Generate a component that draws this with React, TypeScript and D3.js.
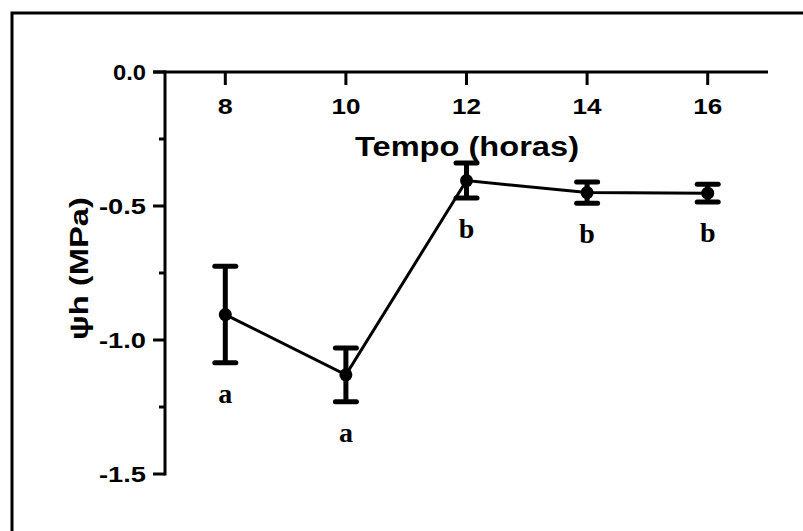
import React from "react";
import * as d3 from "d3";

const hours = [8, 10, 12, 14, 16];
const means = [-0.905, -1.13, -0.405, -0.45, -0.452];
const errors = [0.18, 0.1, 0.065, 0.04, 0.033];
const groupLetters = ["a", "a", "b", "b", "b"];
const xTicks = [8, 10, 12, 14, 16];
const yTicks = [0, -0.5, -1.0, -1.5];
const yMinorTicks = [-0.25, -0.75, -1.25];
const xTitle = "Tempo (horas)";
const yTitle = "ψh (MPa)";

export default function App() {
  const W = 803;
  const H = 531;
  const x = d3.scaleLinear().domain([7, 17]).range([165, 768]);
  const y = d3.scaleLinear().domain([0, -1.5]).range([72, 474]);
  const pts = hours.map((h, i) => [x(h), y(means[i])] as [number, number]);
  const line = d3.line()(pts) || "";
  const sans = "Arial, 'Liberation Sans', Helvetica, sans-serif";
  const serif = "'Times New Roman', 'Liberation Serif', serif";
  const capW = 21;

  return (
    <svg
      width={W}
      height={H}
      style={{ position: "absolute", left: 0, top: 0, background: "#fff" }}
    >
      <rect x={0} y={0} width={W} height={H} fill="#fff" />
      {/* outer frame */}
      <rect x={12} y={13} width={W + 20} height={H + 20} fill="none" stroke="#000" strokeWidth={3} />

      {/* x axis (top) */}
      <line x1={153} x2={x(17)} y1={y(0)} y2={y(0)} stroke="#000" strokeWidth={3} />
      {xTicks.map((t) => (
        <g key={"xt" + t}>
          <line x1={x(t)} x2={x(t)} y1={y(0)} y2={y(0) + 13} stroke="#000" strokeWidth={3} />
          <text
            x={x(t)}
            y={114}
            textAnchor="middle"
            textLength={String(t).length === 1 ? 15 : 29}
            lengthAdjust="spacingAndGlyphs"
            fontFamily={sans}
            fontWeight="bold"
            fontSize={22}
            fill="#000"
          >
            {t}
          </text>
        </g>
      ))}
      <text
        x={355}
        y={156}
        textLength={224}
        lengthAdjust="spacingAndGlyphs"
        fontFamily={sans}
        fontWeight="bold"
        fontSize={27}
        fill="#000"
      >
        {xTitle}
      </text>

      {/* y axis */}
      <line x1={165} x2={165} y1={y(0) - 1.5} y2={y(-1.5) + 1.5} stroke="#000" strokeWidth={3} />
      {yTicks.map((t) => (
        <g key={"yt" + t}>
          <line x1={153} x2={165} y1={y(t)} y2={y(t)} stroke="#000" strokeWidth={3} />
          <text
            x={146}
            y={y(t) + 8}
            textAnchor="end"
            textLength={t === 0 ? 33 : 47}
            lengthAdjust="spacingAndGlyphs"
            fontFamily={sans}
            fontWeight="bold"
            fontSize={22}
            fill="#000"
          >
            {t.toFixed(1)}
          </text>
        </g>
      ))}
      {yMinorTicks.map((t) => (
        <line key={"ym" + t} x1={159} x2={165} y1={y(t)} y2={y(t)} stroke="#000" strokeWidth={3} />
      ))}
      <text
        transform={`translate(88,268.5) rotate(-90)`}
        textAnchor="middle"
        textLength={143}
        lengthAdjust="spacingAndGlyphs"
        fontFamily={sans}
        fontWeight="bold"
        fontSize={25}
        fill="#000"
      >
        {yTitle}
      </text>

      {/* connecting line */}
      <path d={line} fill="none" stroke="#000" strokeWidth={3} />

      {/* error bars */}
      {hours.map((h, i) => {
        const cx = x(h);
        const top = y(means[i] + errors[i]);
        const bot = y(means[i] - errors[i]);
        return (
          <g key={"eb" + h}>
            <line x1={cx} x2={cx} y1={top} y2={bot} stroke="#000" strokeWidth={5} />
            <line x1={cx - capW / 2} x2={cx + capW / 2} y1={top} y2={top} stroke="#000" strokeWidth={5} strokeLinecap="round" />
            <line x1={cx - capW / 2} x2={cx + capW / 2} y1={bot} y2={bot} stroke="#000" strokeWidth={5} strokeLinecap="round" />
            <circle cx={cx} cy={y(means[i])} r={6.5} fill="#000" />
            <text
              x={cx}
              y={bot + 40}
              textAnchor="middle"
              fontFamily={serif}
              fontWeight="bold"
              fontSize={28}
              fill="#000"
            >
              {groupLetters[i]}
            </text>
          </g>
        );
      })}
    </svg>
  );
}
